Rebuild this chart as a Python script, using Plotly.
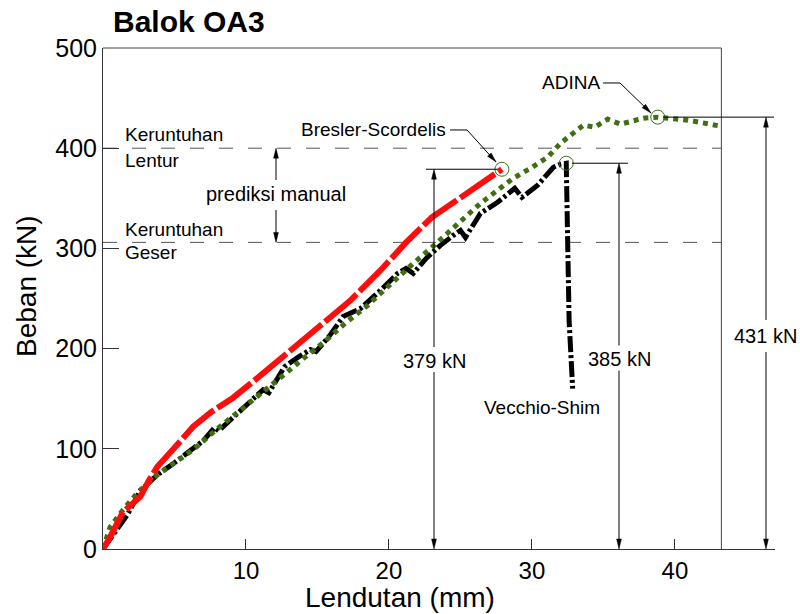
import math
import numpy as np
import plotly.graph_objects as go

# ---------------- data ----------------
bresler_x = [0, 0.5, 1.4, 2.6, 3.2, 3.8, 5.0, 6.3, 7.6, 9.1, 11.0, 12.9, 15.0, 17.3, 19.4, 21.2, 23.0, 25.5, 27.9]
bresler_y = [0, 12, 37, 52, 68, 82, 101, 122, 137, 151, 173, 196, 221, 248, 278, 306, 331, 355, 379]

vecchio_x = [0, 0.8, 1.7, 2.6, 3.8, 5.0, 5.9, 7.0, 7.8, 8.1, 9.0, 10.2, 11.2, 11.6, 12.7, 13.6, 14.5, 14.9,
             15.8, 16.8, 18.0, 19.4, 20.6, 21.2, 21.7, 22.6, 23.6, 24.5, 25.0, 25.35, 25.8, 26.4, 27.6,
             28.8, 29.3, 30.4, 31.5, 32.0, 32.4, 32.45, 32.6, 32.85]
vecchio_y = [0, 16, 34, 58, 74, 86, 96, 108, 121, 118, 130, 145, 159, 156, 182, 191, 199, 197,
             212, 232, 240, 258, 275, 280, 275, 290, 303, 313, 318, 311, 322, 335, 346,
             360, 351, 363, 381, 384, 385, 320, 228, 160]

adina_x = [0, 0.5, 1.4, 2.4, 3.8, 5.0, 6.3, 8.0, 9.5, 11.0, 12.5, 14.0, 15.5, 17.0, 18.5, 19.4, 20.5,
           21.7, 23.0, 24.1, 25.2, 26.4, 27.5, 28.7, 29.9, 31.1, 32.0, 32.7, 33.6, 34.4, 35.3, 36.2,
           37.0, 37.8, 38.8, 39.9, 40.9, 41.7, 43.2]
adina_y = [0, 22, 39, 56, 74, 86, 99, 120, 137, 154, 172, 190, 207, 226, 243, 255, 270,
           285, 301, 315, 330, 345, 357, 370, 380, 391, 405, 413, 423, 421, 429, 424,
           427, 430, 431, 430, 428, 426, 422]

x_ticks = [10, 20, 30, 40]
y_ticks = [0, 100, 200, 300, 400, 500]
lentur_load = 400   # Keruntuhan Lentur
geser_load = 306    # Keruntuhan Geser

# ---------------- layout geometry ----------------
W, H = 800, 614
ML, MR, MT, MB = 103, 25, 48, 65
XR = [0, 47]
YR = [0, 500]
PW, PH = W - ML - MR, H - MT - MB
sx = PW / (XR[1] - XR[0])
sy = PH / (YR[1] - YR[0])
X_FRAME = 43.25

FONT = "Liberation Sans, Arial, sans-serif"
RED = "#ff0d0d"
GREEN = "#3f6f12"
AX = "#333333"


def to_px(x, y):
    return ML + (x - XR[0]) * sx, MT + PH - (y - YR[0]) * sy


def to_data(px, py):
    return XR[0] + (px - ML) / sx, YR[0] + (MT + PH - py) / sy


def head(tip, tail, L=10, w=2.4):
    tx, ty = to_px(*tip)
    bx, by = to_px(*tail)
    dx, dy = tx - bx, ty - by
    n = math.hypot(dx, dy)
    ux, uy = dx / n, dy / n
    cx, cy = tx - ux * L, ty - uy * L
    p1 = to_data(cx - uy * w, cy + ux * w)
    p2 = to_data(cx + uy * w, cy - ux * w)
    path = f"M{tip[0]},{tip[1]} L{p1[0]},{p1[1]} L{p2[0]},{p2[1]} Z"
    return dict(type="path", path=path, xref="x", yref="y", fillcolor="black",
                line=dict(color="black", width=0.5))


def seg(x0, y0, x1, y1, color="black", width=1, dash=None, layer="above"):
    d = dict(type="line", x0=x0, y0=y0, x1=x1, y1=y1, xref="x", yref="y", layer=layer,
             line=dict(color=color, width=width))
    if dash:
        d["line"]["dash"] = dash
    return d


def label(x, y, text, size, xref="x", yref="y", xanchor="center", **kw):
    d = dict(x=x, y=y, xref=xref, yref=yref, text=text, showarrow=False,
             xanchor=xanchor, yanchor="middle",
             font=dict(size=size, color="black", family=FONT))
    d.update(kw)
    return d


fig = go.Figure()

fig.add_trace(go.Scatter(x=vecchio_x, y=vecchio_y, mode="lines", hoverinfo="skip",
                         line=dict(color="black", width=5, dash="16px,3px,3px,3px")))
fig.add_trace(go.Scatter(x=adina_x, y=adina_y, mode="lines", hoverinfo="skip",
                         line=dict(color=GREEN, width=5, dash="dot")))
fig.add_trace(go.Scatter(x=bresler_x, y=bresler_y, mode="lines", hoverinfo="skip",
                         line=dict(color=RED, width=6, dash="42px,4px")))

shapes = []
# frame (top and right)
shapes.append(dict(type="line", xref="x", yref="paper", x0=0, x1=X_FRAME, y0=1, y1=1,
                   line=dict(color="#444", width=1)))
shapes.append(seg(X_FRAME, 0, X_FRAME, YR[1], color="#444"))
# reference dashed lines
for v in (lentur_load, geser_load):
    shapes.append(seg(0, v, X_FRAME, v, color="#555", width=1, dash="14px,15px", layer="below"))

# peaks
peaks = []
ib = len(bresler_x) - 1
peaks.append((bresler_x[ib], bresler_y[ib]))
iv = int(np.argmax(vecchio_y))
peaks.append((vecchio_x[iv], vecchio_y[iv]))
ia = int(np.argmax(adina_y))
peaks.append((adina_x[ia], adina_y[ia]))

for (px_, py_) in peaks:
    shapes.append(dict(type="circle", xref="x", yref="y", xsizemode="pixel", ysizemode="pixel",
                       xanchor=px_, yanchor=py_, x0=-7, x1=7, y0=-7, y1=7,
                       line=dict(color=GREEN, width=1)))

annotations = []

# dimension lines: (x position, load, label centre y, gap above, gap below, horiz ext start, end)
dims = [
    (23.15, peaks[0][1], 187.6, 14, 11, 22.59, 27.56),
    (36.09, peaks[1][1], 190.1, 13, 12, 32.80, 36.72),
    (46.37, peaks[2][1], 212.6, 16, 16, 39.17, 46.93),
]
for (xd, load, ly, ga, gb, h0, h1) in dims:
    shapes.append(seg(h0, load, h1, load))
    shapes.append(seg(xd, ly + ga, xd, load - 5))
    shapes.append(seg(xd, ly - gb, xd, 5))
    shapes.append(head((xd, load), (xd, 0)))
    shapes.append(head((xd, 0), (xd, load)))
    annotations.append(label(xd, ly, f"{load:.0f} kN", 20))

# prediksi manual
xm = 12.10
shapes.append(seg(xm, lentur_load - 3, xm, 368.3))
shapes.append(seg(xm, 338.3, xm, geser_load + 3))
shapes.append(head((xm, lentur_load), (xm, geser_load)))
shapes.append(head((xm, geser_load), (xm, lentur_load)))
annotations.append(label(xm, 354.5, "prediksi manual", 20))

# leaders
shapes.append(seg(24.27, 418.2, 25.46, 418.2))
shapes.append(seg(25.46, 418.2, 27.49, 386.2))
shapes.append(head((27.49, 386.2), (25.46, 418.2)))
annotations.append(label(24.1, 418.2, "Bresler-Scordelis", 19, xanchor="right"))

shapes.append(seg(34.97, 465.1, 36.16, 465.1))
shapes.append(seg(36.16, 465.1, 38.33, 435.1))
shapes.append(head((38.33, 435.1), (36.16, 465.1)))
annotations.append(label(34.9, 465.1, "ADINA", 19, xanchor="right"))

annotations.append(label(30.73, 141.7, "Vecchio-Shim", 19))

for txt, yv in (("Keruntuhan", 413.2), ("Lentur", 388.2), ("Keruntuhan", 318.4), ("Geser", 296.4)):
    annotations.append(label(1.40, yv, txt, 19, xanchor="left"))


# title and axis titles (paper coords)
def paper(px, py):
    return (px - ML) / PW, (MT + PH - py) / PH


tx, ty = paper(111, 22)
annotations.append(label(tx, ty, "<b>Balok OA3</b>", 30, xref="paper", yref="paper", xanchor="left"))
tx, ty = paper(26, 286)
annotations.append(label(tx, ty, "Beban (kN)", 28, xref="paper", yref="paper", textangle=-90))
tx, ty = paper(400, 597)
annotations.append(label(tx, ty, "Lendutan (mm)", 28, xref="paper", yref="paper"))

fig.update_layout(
    width=W, height=H,
    margin=dict(l=ML, r=MR, t=MT, b=MB, pad=0),
    paper_bgcolor="white", plot_bgcolor="white",
    showlegend=False,
    shapes=shapes,
    annotations=annotations,
    font=dict(family=FONT, color="black"),
    xaxis=dict(range=XR, tickvals=x_ticks, ticks="inside", ticklen=10, tickcolor=AX,
               showline=True, linecolor=AX, linewidth=1, showgrid=False, zeroline=False,
               tickfont=dict(size=24, family=FONT, color="black")),
    yaxis=dict(range=YR, tickvals=y_ticks, ticks="inside", ticklen=16, tickcolor=AX,
               showline=True, linecolor=AX, linewidth=1, showgrid=False, zeroline=False,
               tickfont=dict(size=25, family=FONT, color="black")),
)

fig.write_html("out.html", config={"displayModeBar": False},
               post_script="document.body.style.margin='0';document.body.style.overflow='hidden';")
